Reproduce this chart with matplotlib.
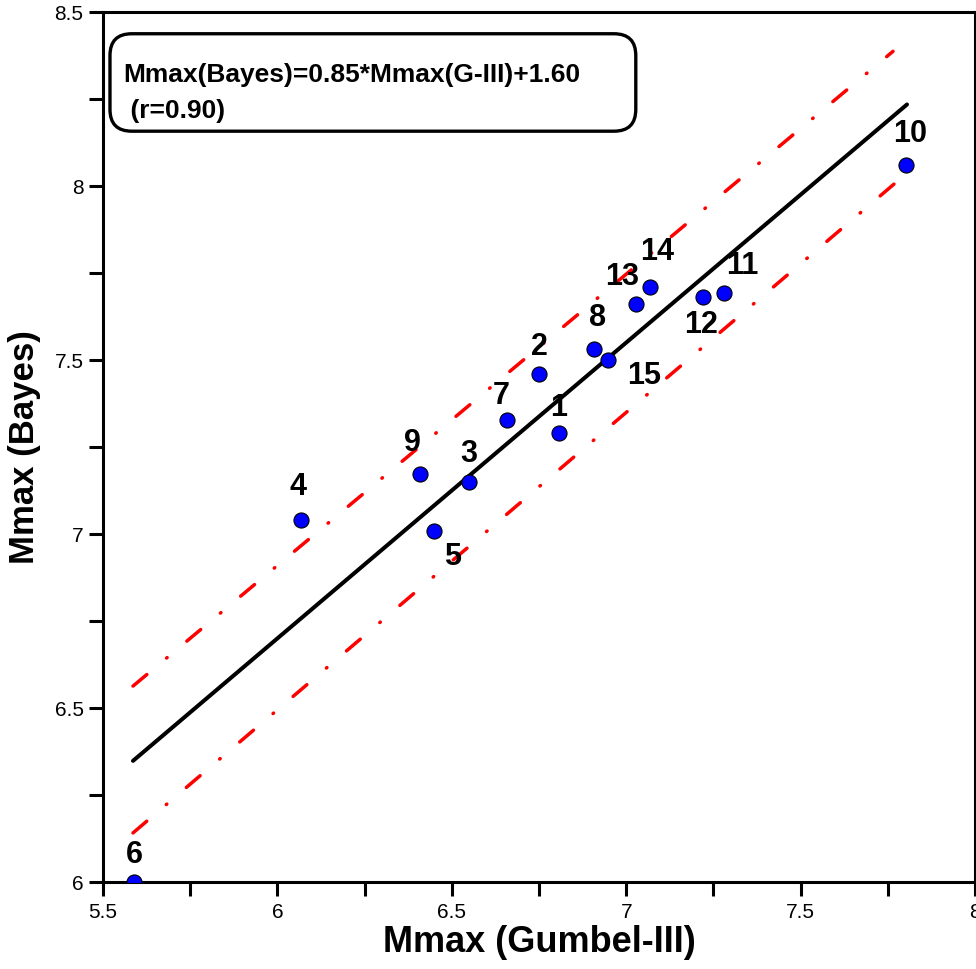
import matplotlib
matplotlib.use("Agg")
import matplotlib.pyplot as plt
from matplotlib.patches import FancyBboxPatch
from matplotlib.ticker import MultipleLocator
import numpy as np

plt.rcParams['font.family'] = ['Liberation Sans', 'DejaVu Sans']
plt.rcParams['lines.scale_dashes'] = False

# data
ids = [1, 2, 3, 4, 5, 6, 7, 8, 9, 10, 11, 12, 13, 14, 15]
gumbel = [6.807, 6.75, 6.549, 6.069, 6.448, 5.589, 6.658, 6.908, 6.408, 7.802, 7.279, 7.221, 7.029, 7.069, 6.948]
bayes = [7.29, 7.46, 7.149, 7.04, 7.009, 6.0, 7.328, 7.532, 7.172, 8.06, 7.693, 7.681, 7.661, 7.71, 7.5]

slope, intercept, r = 0.85, 1.60, 0.90
fit_x = [5.586, 7.805]
upper_x = [5.586, 7.765]
band_upper = [6.563, 8.387]
lower_x = [5.586, 7.80]
band_lower = [6.141, 8.033]

# label offsets in pixels (dx, dy)
label_off = {1: (0, 25), 2: (0, 27), 3: (0, 28), 4: (-3, 33), 5: (19, -26),
             6: (0, 27), 7: (-6, 24), 8: (3, 31), 9: (-7, 31), 10: (4, 31),
             11: (19, 27), 12: (-2, -28), 13: (-14, 27), 14: (7, 35), 15: (36, -16)}

fig = plt.figure(figsize=(9.76, 9.69), dpi=100)
ax = fig.add_axes([103 / 976, 87 / 969, 872 / 976, 870 / 969])

fx = np.array(fit_x)
ax.plot(fx, slope * fx + intercept, color='black', lw=2.9, solid_capstyle='round', zorder=3)
for xx, yy in ((upper_x, band_upper), (lower_x, band_lower)):
    ax.plot(xx, yy, color='red', lw=2.5, dashes=(13, 18.5, 0.5, 18.5),
            dash_capstyle='round', zorder=2)

ax.scatter(gumbel, bayes, s=118, color='#0000ff', edgecolor='black', linewidth=0.8, zorder=4)

for i, x, y in zip(ids, gumbel, bayes):
    dx, dy = label_off[i]
    ax.annotate(str(i), (x, y), xytext=(dx * 0.72, dy * 0.72), textcoords='offset points',
                ha='center', va='center', fontsize=22, fontweight='bold', zorder=5)

box = FancyBboxPatch((0.008, 0.863), 0.603, 0.112, boxstyle='round,pad=0,rounding_size=0.025',
                     transform=ax.transAxes, facecolor='white', edgecolor='black', lw=2.4,
                     zorder=6, clip_on=False)
ax.add_patch(box)
ax.text(0.023, 0.928, f'Mmax(Bayes)={slope:.2f}*Mmax(G-III)+{intercept:.2f}',
        transform=ax.transAxes, fontsize=19, fontweight='bold', va='center', ha='left', zorder=7)
ax.text(0.023, 0.886, f' (r={r:.2f})', transform=ax.transAxes, fontsize=19,
        fontweight='bold', va='center', ha='left', zorder=7)

ax.set_xlim(5.5, 8)
ax.set_ylim(6, 8.5)
ax.xaxis.set_major_locator(MultipleLocator(0.5))
ax.xaxis.set_minor_locator(MultipleLocator(0.25))
ax.yaxis.set_major_locator(MultipleLocator(0.5))
ax.yaxis.set_minor_locator(MultipleLocator(0.25))
ax.xaxis.set_major_formatter(plt.FuncFormatter(lambda v, p: f'{v:g}'))
ax.yaxis.set_major_formatter(plt.FuncFormatter(lambda v, p: f'{v:g}'))
ax.tick_params(which='both', direction='out', length=10, width=2.2, labelsize=15)
ax.tick_params(axis='x', pad=5)
ax.tick_params(axis='y', pad=4)
for s in ax.spines.values():
    s.set_linewidth(2.2)

ax.set_xlabel('Mmax (Gumbel-III)', fontsize=26, fontweight='bold', labelpad=2)
ax.set_ylabel('Mmax (Bayes)', fontsize=25, fontweight='bold', labelpad=10)

fig.savefig('out.png', dpi=100)
